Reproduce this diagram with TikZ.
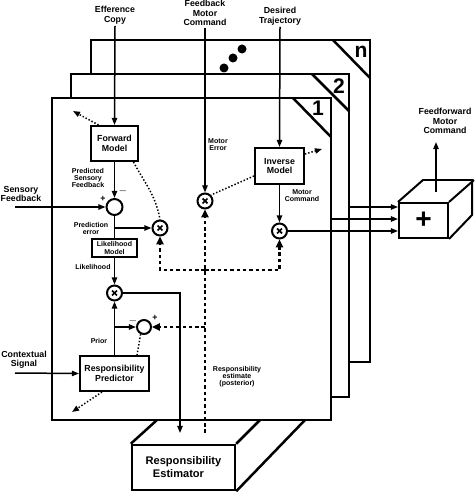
\documentclass[tikz,border=0pt]{standalone}
\usepackage{fontspec}
\setmainfont{Liberation Sans}
\usetikzlibrary{arrows.meta}

\begin{document}
\begin{tikzpicture}[x=0.02cm,y=-0.02cm,
  frame/.style={draw, fill=white, line width=0.5mm},
  blk/.style={draw, fill=white, line width=0.4mm, align=center, inner sep=0pt, font=\fontsize{5}{5.4}\selectfont\bfseries},
  lbl/.style={align=center, inner sep=1pt, font=\fontsize{5}{5.4}\selectfont\bfseries},
  tiny/.style={align=center, inner sep=0pt, font=\fontsize{4}{4}\selectfont\bfseries},
  num/.style={inner sep=0pt, font=\fontsize{12}{12}\selectfont\bfseries},
  sumc/.style={circle, draw, fill=white, line width=0.4mm, minimum size=0.3cm, inner sep=0pt},
  mulc/.style={sumc, path picture={
      \draw[line width=1pt] ([shift={(-1.4pt,-1.4pt)}]path picture bounding box.center) -- ([shift={(1.4pt,1.4pt)}]path picture bounding box.center);
      \draw[line width=1pt] ([shift={(-1.4pt,1.4pt)}]path picture bounding box.center) -- ([shift={(1.4pt,-1.4pt)}]path picture bounding box.center);}},
  arr/.style={line width=0.3mm, -{Triangle[length=4pt,width=3pt]}},
  con/.style={line width=0.3mm},
  dot/.style={line width=0.3mm, dash pattern=on 0.8pt off 1.1pt},
  post/.style={line width=1.6pt, dash pattern=on 2pt off 1.6pt, -{Triangle[length=4.5pt,width=4pt]}}]
  \useasboundingbox (0,0) rectangle (474,492);

  % stacked expert modules
  \draw[frame] (91,40) rectangle (370,362);
  \draw[line width=0.5mm] (333,40) -- (370,78);
  \node[num] (nn) at (361,52) {n};
  \draw[frame] (71,74) rectangle (349,397);
  \draw[line width=0.5mm] (312,74) -- (349,111);
  \node[num] (n2) at (339,86) {2};
  \draw[frame] (52,98) rectangle (331,420);
  \draw[line width=0.5mm] (293,98) -- (331,137);
  \node[num] (n1) at (318,108) {1};

  \fill (224,68) circle (0.09cm);
  \fill (233,58) circle (0.09cm);
  \fill (242,49) circle (0.09cm);

  % inputs and outputs
  \node[lbl] (ec) at (115,15) {Efference\\Copy};
  \node[lbl] (fmc) at (205,13) {Feedback\\Motor\\Command};
  \node[lbl] (dt) at (280,16) {Desired\\Trajectory};
  \node[lbl] (ffc) at (445,121) {Feedforward\\Motor\\Command};
  \node[lbl] (sf) at (21,194) {Sensory\\Feedback};
  \node[lbl] (cs) at (24,360) {Contextual\\Signal};

  % blocks
  \node[blk, minimum width=0.96cm, minimum height=0.7cm] (fwd) at (114.5,143.5) {Forward\\Model};
  \node[blk, minimum width=0.98cm, minimum height=0.72cm] (inv) at (279.5,166) {Inverse\\Model};
  \node[blk, minimum width=0.9cm, minimum height=0.36cm, font=\fontsize{4}{4.3}\selectfont\bfseries] (lik) at (114.5,248) {Likelihood\\Model};
  \node[blk, minimum width=1.38cm, minimum height=0.7cm] (rp) at (114.5,373.5) {Responsibility\\Predictor};

  \node[sumc, minimum size=0.32cm] (sum1) at (114.5,207) {};
  \node[sumc, minimum size=0.28cm] (sum2) at (144,327) {};
  \node[mulc] (mult1) at (205,201) {};
  \node[mulc] (mult2) at (160,228) {};
  \node[mulc] (mult3) at (114.5,293) {};
  \node[mulc] (mult4) at (279.5,231) {};

  \node[lbl] (m1) at (123,191) {$-$};
  \node[lbl] (p1) at (103,199) {+};
  \node[lbl] (m2) at (133,321) {$-$};
  \node[lbl] (p2) at (155,318) {+};

  \node[tiny] (psf) at (88,178) {Predicted\\Sensory\\Feedback};
  \node[tiny] (pe) at (91,228.5) {Prediction\\error};
  \node[tiny] (lh) at (93,267) {Likelihood};
  \node[tiny] (pr) at (99,341) {Prior};
  \node[tiny] (me) at (218,145) {Motor\\Error};
  \node[tiny] (mc) at (302,195.5) {Motor\\Command};
  \node[tiny] (re) at (237,377) {Responsibility\\estimate\\(posterior)};

  % summing cube
  \node[draw, line width=0.4mm, minimum width=0.98cm, minimum height=0.7cm, inner sep=0pt, font=\fontsize{16}{16}\selectfont\bfseries] (add) at (423.5,220.5) {+};
  \draw[line width=0.4mm] (add.north west) -- ++(25,-22) -- ++(49,0) -- ++(0,35) -- (add.south east);
  \draw[line width=0.4mm] (add.north east) -- ++(25,-22);

  % responsibility estimator
  \node[draw, line width=0.5mm, minimum width=2.06cm, minimum height=0.9cm, inner sep=0pt, font=\fontsize{6.3}{7.4}\selectfont\bfseries, align=center] (est) at (183.5,467.5) {Responsibility\\Estimator\hspace*{0.2cm}};
  \draw[line width=0.5mm] (est.north west) -- (157,420);
  \draw[line width=0.5mm] (est.north east) -- (260,420);
  \draw[line width=0.5mm] (est.south east) -- (305,420);

  \coordinate (sfin) at (15,207);
  \coordinate (csin) at (15,373);
  \coordinate (o2) at (349,207);
  \coordinate (o1) at (331,219);
  \coordinate (addtop) at (436,192);
  \coordinate (ffo) at (436,142);
  \coordinate (rin) at (180,433);
  \coordinate (rout) at (205,433);
  \coordinate (pk) at (205,270);
  \coordinate (fwdout) at (73,111);
  \coordinate (invout) at (322,149);
  \coordinate (rpout) at (72,412);

  % solid signal paths
  \draw[arr] (ec.south) -- (fwd.north);
  \draw[arr] (fmc.south) -- (mult1.north);
  \draw[arr] (dt.south) -- (inv.north);
  \draw[arr] (sfin) -- (sum1.west);
  \draw[arr] (csin) -- (rp.west);
  \draw[arr] (fwd.south) -- (sum1.north);
  \draw[con] (sum1.south) -- (lik.north);
  \draw[arr] (sum1.south |- mult2) -- (mult2.west);
  \draw[arr] (lik.south) -- (mult3.north);
  \draw[arr] (rp.north) -- (mult3.south);
  \draw[arr] (rp.north |- sum2.west) -- (sum2.west);
  \draw[arr] (mult3.east) -| (rin);
  \draw[arr] (inv.south) -- (mult4.north);
  \draw[arr] (mult4.east) -- (mult4 -| add.west);
  \draw[arr] (o1) -- (o1 -| add.west);
  \draw[arr] (o2) -- (o2 -| add.west);
  \draw[arr] (addtop) -- (ffo);

  % responsibility estimate
  \draw[post] (rout) -- (mult1.south);
  \draw[post] (rout |- sum2.east) -- (sum2.east);
  \draw[post] (pk) -| (mult2.south);
  \draw[post] (pk) -| (mult4.south);

  % dotted links
  \draw[dot, -{Triangle[length=4pt,width=3pt]}] ([xshift=0.18cm]fwd.north west) -- (fwdout);
  \draw[dot] ([xshift=-0.12cm]fwd.south east) to[out=-62,in=100] (mult2.north);
  \draw[dot, -{Triangle[length=4pt,width=3pt]}] ([yshift=-0.14cm]inv.north east) -- (invout);
  \draw[dot] ([yshift=0.18cm]inv.south west) -- (mult1.north east);
  \draw[dot] (sum2.-115) -- ([xshift=-0.26cm]rp.north east);
  \draw[dot, -{Triangle[length=4pt,width=3pt]}] ([xshift=0.46cm]rp.south west) -- (rpout);
\end{tikzpicture}
\end{document}
